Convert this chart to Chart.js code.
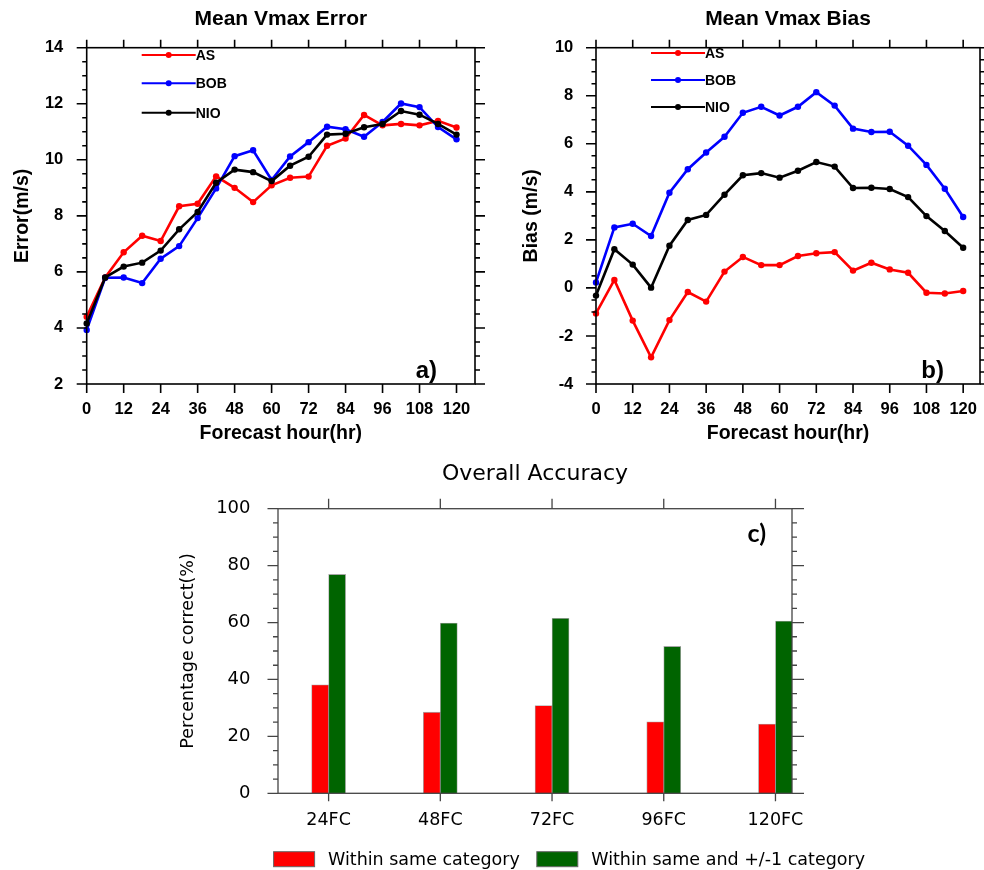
<!DOCTYPE html>
<html lang="en">
  <head>
    <meta charset="UTF-8" />
    <title>Vmax error, bias and accuracy</title>
    <script src="https://cdn.jsdelivr.net/npm/chart.js@4"></script>
    <style>
      body { margin: 0; background: #fff; }
      canvas { position: absolute; }
    </style>
  </head>
  <body>
    <canvas id="errChart" width="492" height="450" style="left:0;top:0"></canvas>
    <canvas id="biasChart" width="492" height="450" style="left:492px;top:0"></canvas>
    <canvas id="accChart" width="824" height="420" style="left:160px;top:450px"></canvas>

    <script>
      // forecast hours (x) for panels a) and b)
      const hours = [0, 6, 12, 18, 24, 30, 36, 42, 48, 54, 60, 66, 72, 78, 84, 90, 96, 102, 108, 114, 120];

      // a) mean Vmax error (m/s)
      const errAS  = [4.4, 5.8, 6.7, 7.29, 7.1, 8.34, 8.43, 9.41, 9.0, 8.49, 9.09, 9.36, 9.4, 10.5, 10.76, 11.6, 11.23, 11.28, 11.23, 11.39, 11.15];
      const errBOB = [3.93, 5.79, 5.8, 5.6, 6.47, 6.92, 7.92, 8.98, 10.13, 10.34, 9.28, 10.12, 10.63, 11.18, 11.09, 10.82, 11.35, 12.01, 11.88, 11.17, 10.73];
      const errNIO = [4.16, 5.8, 6.19, 6.33, 6.76, 7.52, 8.14, 9.18, 9.65, 9.56, 9.24, 9.79, 10.11, 10.9, 10.93, 11.16, 11.28, 11.74, 11.61, 11.28, 10.9];

      // b) mean Vmax bias (m/s)
      const biasAS  = [-1.06, 0.33, -1.36, -2.89, -1.34, -0.17, -0.57, 0.68, 1.29, 0.95, 0.95, 1.33, 1.44, 1.49, 0.72, 1.05, 0.77, 0.63, -0.2, -0.23, -0.13];
      const biasBOB = [0.23, 2.52, 2.67, 2.16, 3.96, 4.94, 5.64, 6.29, 7.29, 7.54, 7.18, 7.54, 8.15, 7.59, 6.63, 6.49, 6.5, 5.92, 5.12, 4.13, 2.95];
      const biasNIO = [-0.32, 1.61, 0.97, 0.01, 1.76, 2.83, 3.04, 3.88, 4.69, 4.78, 4.59, 4.88, 5.24, 5.05, 4.16, 4.17, 4.12, 3.78, 2.99, 2.37, 1.67];

      // c) overall accuracy (%)
      const fcLabels  = ['24FC', '48FC', '72FC', '96FC', '120FC'];
      const sameCat   = [38.1, 28.5, 30.8, 25.1, 24.3];
      const withinOne = [76.9, 59.8, 61.5, 51.6, 60.5];

      const RED = '#ff0000', BLUE = '#0000ff', BLACK = '#000000', GREEN = '#006400';
      const HV = 'Liberation Sans', DJ = 'DejaVu Sans';

      // frame, minor ticks, line key and panel tag
      const decor = {
        id: 'decor',
        afterDatasetsDraw(chart, args, o) {
          const { ctx, chartArea: a, scales: { x, y } } = chart;
          ctx.save();
          ctx.strokeStyle = o.color;
          ctx.lineWidth = o.lineWidth;
          ctx.strokeRect(a.left, a.top, a.right - a.left, a.bottom - a.top);
          ctx.beginPath();
          x.ticks.forEach(t => {
            const p = x.getPixelForValue(t.value);
            ctx.moveTo(p, a.bottom); ctx.lineTo(p, a.bottom + o.bottomLen);
            ctx.moveTo(p, a.top); ctx.lineTo(p, a.top - o.topLen);
          });
          for (let v = y.min; v <= y.max + 1e-9; v += o.minorStep) {
            const p = y.getPixelForValue(v);
            const major = y.ticks.some(t => Math.abs(t.value - v) < 1e-9);
            const l = o.leftLen[major ? 0 : 1], r = o.rightLen[major ? 0 : 1];
            ctx.moveTo(a.left - l, p); ctx.lineTo(a.left, p);
            ctx.moveTo(a.right, p); ctx.lineTo(a.right + r, p);
          }
          ctx.stroke();

          if (o.key) {
            ctx.font = o.key.font;
            ctx.textAlign = 'left';
            ctx.textBaseline = 'middle';
            chart.data.datasets.forEach((ds, i) => {
              const yy = a.top + o.key.y[i], x0 = a.left + o.key.x, x1 = x0 + o.key.len;
              ctx.strokeStyle = ds.borderColor;
              ctx.lineWidth = 2;
              ctx.beginPath(); ctx.moveTo(x0, yy); ctx.lineTo(x1, yy); ctx.stroke();
              ctx.fillStyle = ds.borderColor;
              ctx.beginPath(); ctx.arc((x0 + x1) / 2, yy, 3, 0, 2 * Math.PI); ctx.fill();
              ctx.fillStyle = '#000';
              ctx.fillText(ds.label, x1, yy + 1);
            });
          }

          if (o.boxes) {
            const b = o.boxes;
            ctx.font = b.font;
            ctx.textAlign = 'left';
            ctx.textBaseline = 'middle';
            let bx = b.x;
            chart.data.datasets.forEach(ds => {
              ctx.fillStyle = ds.backgroundColor;
              ctx.fillRect(bx, b.y, b.w, b.h);
              ctx.strokeStyle = '#666';
              ctx.lineWidth = 1;
              ctx.strokeRect(bx, b.y, b.w, b.h);
              const tx = bx + b.w + b.gap;
              ctx.fillStyle = '#000';
              ctx.fillText(ds.label, tx, b.y + b.h / 2 + 1);
              bx = tx + ctx.measureText(ds.label).width + b.itemGap;
            });
          }

          if (o.tag) {
            ctx.font = o.tag.font;
            ctx.fillStyle = '#000';
            ctx.textAlign = 'right';
            ctx.textBaseline = 'alphabetic';
            ctx.fillText(o.tag.text, a.right + o.tag.dx, (o.tag.fromTop ? a.top : a.bottom) + o.tag.dy);
          }
          ctx.restore();
        }
      };

      const fixW = w => s => { s.width = w; s.paddingTop = 0; s.paddingBottom = 0; };
      const fixH = h => s => { s.height = h; s.paddingLeft = 0; s.paddingRight = 0; };
      const noGrid = { display: false, drawTicks: false };

      function lineSet(label, values, color, order) {
        return {
          label: label,
          data: hours.map((h, i) => ({ x: h, y: values[i] })),
          borderColor: color,
          backgroundColor: color,
          pointBackgroundColor: color,
          pointBorderWidth: 0,
          pointRadius: 3.2,
          borderWidth: 2.6,
          tension: 0,
          order: order,
          clip: false
        };
      }

      function lineChart(id, title, yTitle, sets, o) {
        return new Chart(document.getElementById(id), {
          type: 'line',
          data: { datasets: sets },
          options: {
            responsive: false,
            animation: false,
            devicePixelRatio: 1,
            layout: { padding: { left: 0, right: o.padRight, top: 0, bottom: 0 } },
            scales: {
              x: {
                type: 'linear', min: 0, max: o.xMax,
                grid: noGrid, border: { display: false },
                ticks: { stepSize: 12, includeBounds: false, padding: 16, color: '#000',
                         font: { family: HV, size: 16.5, weight: 'bold' } },
                title: { display: true, text: 'Forecast hour(hr)', color: '#000',
                         font: { family: HV, size: 19.5, weight: 'bold' }, padding: { top: 0, bottom: 4.3 } },
                afterFit: fixH(66)
              },
              y: {
                min: o.yMin, max: o.yMax,
                grid: noGrid, border: { display: false },
                ticks: { stepSize: 2, padding: o.tickPad, color: '#000',
                         font: { family: HV, size: 16.5, weight: 'bold' } },
                title: { display: true, text: yTitle, color: '#000',
                         font: { family: HV, size: 19.5, weight: 'bold' }, padding: { top: o.yTitlePad, bottom: 0 } },
                afterFit: fixW(o.yWidth)
              }
            },
            plugins: {
              legend: { display: false },
              tooltip: { enabled: false },
              title: { display: true, text: title, fullSize: false, color: '#000',
                       font: { family: HV, size: 21, weight: 'bold' }, padding: { top: 7, bottom: 15.5 } },
              decor: {
                color: '#000', lineWidth: 1.6, topLen: 8, bottomLen: 9,
                leftLen: [10, 4.5], rightLen: [10, 5], minorStep: 0.5,
                key: { x: 55, len: 54, y: o.keyY, font: 'bold 14px "Liberation Sans"' },
                tag: { text: o.tag, dx: o.tagDx, dy: -6.5, font: 'bold 24px "Liberation Sans"' }
              }
            }
          },
          plugins: [decor]
        });
      }

      lineChart('errChart', 'Mean Vmax Error', 'Error(m/s)',
        [lineSet('AS', errAS, RED, 3), lineSet('BOB', errBOB, BLUE, 2), lineSet('NIO', errNIO, BLACK, 1)],
        { padRight: 17, xMax: 126, yMin: 2, yMax: 14, tickPad: 23.4, yTitlePad: 11.3, yWidth: 86.7,
          keyY: [7.3, 35.6, 65], tag: 'a)', tagDx: -38 });

      lineChart('biasChart', 'Mean Vmax Bias', 'Bias (m/s)',
        [lineSet('AS', biasAS, RED, 3), lineSet('BOB', biasBOB, BLUE, 2), lineSet('NIO', biasNIO, BLACK, 1)],
        { padRight: 1, xMax: 125.5, yMin: -4, yMax: 10, tickPad: 22.7, yTitlePad: 28, yWidth: 104,
          keyY: [5.3, 32.3, 59.3], tag: 'b)', tagDx: -36 });

      new Chart(document.getElementById('accChart'), {
        type: 'bar',
        data: {
          datasets: [
            { label: 'Within same category', data: fcLabels.map((c, i) => ({ x: i + 1, y: sameCat[i] })),
              backgroundColor: RED, borderColor: 'rgba(0,0,0,0.35)', borderWidth: 0.8, barThickness: 17 },
            { label: 'Within same and +/-1 category', data: fcLabels.map((c, i) => ({ x: i + 1, y: withinOne[i] })),
              backgroundColor: GREEN, borderColor: 'rgba(0,0,0,0.35)', borderWidth: 0.8, barThickness: 17 }
          ]
        },
        options: {
          responsive: false,
          animation: false,
          devicePixelRatio: 1,
          layout: { padding: { left: 0, right: 192, top: 0, bottom: 0 } },
          scales: {
            x: {
              type: 'linear', min: 0.547, max: 5.148, offset: false,
              grid: noGrid, border: { display: false },
              ticks: { stepSize: 1, includeBounds: false, padding: 17, color: '#000',
                       font: { family: DJ, size: 17.5 },
                       callback: v => fcLabels[v - 1] },
              afterFit: fixH(76.7)
            },
            y: {
              min: 0, max: 100,
              grid: noGrid, border: { display: false },
              ticks: { stepSize: 20, padding: 27.5, color: '#000', font: { family: DJ, size: 18 } },
              title: { display: true, text: 'Percentage correct(%)', color: '#000',
                       font: { family: DJ, size: 17.5 }, padding: { top: 17.8, bottom: 0 } },
              afterFit: fixW(118)
            }
          },
          plugins: {
            legend: { display: false },
            tooltip: { enabled: false },
            title: { display: true, text: 'Overall Accuracy', fullSize: false, color: '#000',
                     font: { family: DJ, size: 22, weight: 'normal' }, padding: { top: 11.5, bottom: 20.8 } },
            decor: {
              color: '#444', lineWidth: 1.3, topLen: 10, bottomLen: 8,
              leftLen: [10.5, 5], rightLen: [12, 5], minorStep: 5,
              boxes: { x: 113.6, y: 401.7, w: 41, h: 15, gap: 13.4, itemGap: 17, font: '17.5px "DejaVu Sans"' },
              tag: { text: 'c)', dx: -26, dy: 33.5, fromTop: true, font: 'bold 25px Lato' }
            }
          }
        },
        plugins: [decor]
      });
    </script>
  </body>
</html>
